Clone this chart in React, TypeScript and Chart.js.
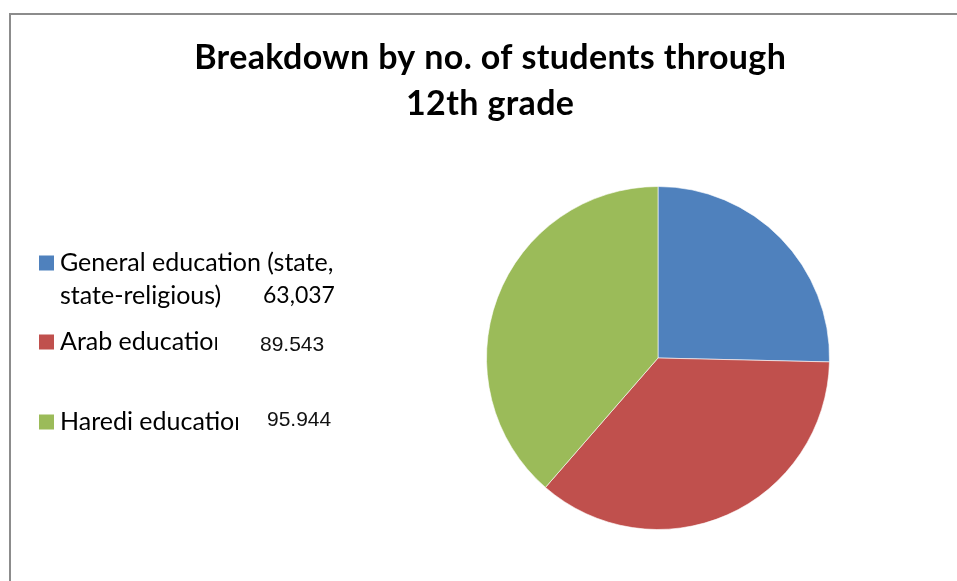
import React, { useEffect, useRef } from "react";
import { Chart, registerables } from "chart.js";

Chart.register(...registerables);

const titleLines = ["Breakdown by no. of students through", "12th grade"];
const categories = ["General education (state, state-religious)", "Arab education", "Haredi education"];
const legendLines = [["General education (state,", "state-religious)"], ["Arab education"], ["Haredi education"]];
const values = [63037, 89543, 95944];
const valueLabels = ["63,037", "89.543", "95.944"];
const colors = ["#4F81BD", "#C0504D", "#9BBB59"];

const FONT = "Lato, 'Open Sans', sans-serif";

const overlay = {
  id: "overlay",
  afterDraw(chart: any) {
    const ctx = chart.ctx as CanvasRenderingContext2D;
    ctx.save();
    // frame
    ctx.strokeStyle = "#8c8c8c";
    ctx.lineWidth = 2;
    ctx.beginPath();
    ctx.moveTo(1000, 14);
    ctx.lineTo(10, 14);
    ctx.lineTo(10, 700);
    ctx.stroke();

    // title
    ctx.fillStyle = "#000";
    ctx.font = `bold 34px ${FONT}`;
    ctx.textAlign = "center";
    ctx.textBaseline = "middle";
    const w0 = ctx.measureText(titleLines[0]).width;
    const extra = Math.max(0, (592 - w0) / titleLines[0].length);
    (ctx as any).letterSpacing = `${extra}px`;
    ctx.fillText(titleLines[0], 490 + extra / 2, 58);
    ctx.fillText(titleLines[1], 490 + extra / 2, 104);
    (ctx as any).letterSpacing = "0px";

    // legend
    const rowY = [263, 342, 422];
    const clipX = [1000, 217, 238];
    const numX = [263, 260, 267];
    const numY = [296, 345, 420];
    ctx.textAlign = "left";
    for (let i = 0; i < categories.length; i++) {
      ctx.fillStyle = colors[i];
      ctx.fillRect(39, rowY[i] - 7.5, 15, 15);
      ctx.save();
      ctx.beginPath();
      ctx.rect(0, 0, clipX[i], 581);
      ctx.clip();
      ctx.fillStyle = "#000";
      ctx.font = `25px ${FONT}`;
      legendLines[i].forEach((t, k) => ctx.fillText(t, 60, rowY[i] + k * 33));
      ctx.restore();
      if (i === 0) {
        ctx.font = `23px ${FONT}`;
        ctx.fillStyle = "#000";
      } else {
        ctx.font = `21px 'Liberation Sans', Arial, sans-serif`;
        ctx.fillStyle = "#111";
      }
      ctx.fillText(valueLabels[i], numX[i], numY[i]);
    }
    ctx.restore();
  },
};

export default function App() {
  const ref = useRef<HTMLCanvasElement>(null);
  useEffect(() => {
    document.body.style.margin = "0";
    const chart = new Chart(ref.current!, {
      type: "pie",
      data: {
        labels: categories,
        datasets: [
          {
            data: values,
            backgroundColor: colors,
            borderColor: "rgba(255,255,255,0.6)",
            borderWidth: 1,
          },
        ],
      },
      options: {
        animation: false,
        responsive: false,
        layout: { padding: { left: 486, right: 127, top: 186, bottom: 51 } },
        plugins: {
          legend: { display: false },
          title: { display: false },
          tooltip: { enabled: false },
        },
      },
      plugins: [overlay],
    });
    return () => chart.destroy();
  }, []);
  return (
    <div style={{ width: 957, height: 581, background: "#fff" }}>
      <canvas ref={ref} width={957} height={581} style={{ display: "block" }} />
    </div>
  );
}
